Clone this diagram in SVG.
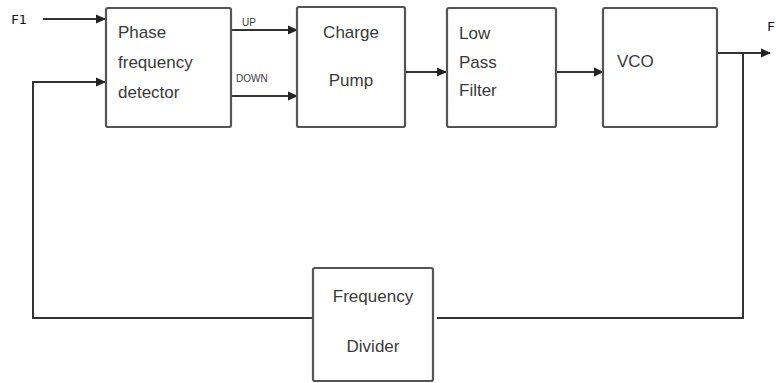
<svg xmlns="http://www.w3.org/2000/svg" width="776" height="383" viewBox="0 0 776 383">
<style>
.box{fill:#fff;stroke:#555;stroke-width:2.2}
.ln{fill:none;stroke:#333;stroke-width:2}
.t{font-family:"Liberation Sans",Arial,sans-serif;font-size:17px;fill:#3a3a3a}
.s{font-family:"Liberation Sans",Arial,sans-serif;font-size:10px;fill:#3a3a3a}
.f{font-family:"DejaVu Sans Mono","Liberation Mono",monospace;font-size:13px;fill:#111}
</style>
<defs>
<marker id="ah" markerWidth="10" markerHeight="10" refX="9" refY="5" orient="auto" markerUnits="userSpaceOnUse">
<path d="M0,0.5 L10,5 L0,9.5 Z" fill="#222"/>
</marker>
</defs>
<rect width="776" height="383" fill="#fff"/>
<g id="connectors">
<path class="ln" d="M43,19 H105" marker-end="url(#ah)"/>
<path class="ln" d="M231,30 H297" marker-end="url(#ah)"/>
<path class="ln" d="M231,96 H297" marker-end="url(#ah)"/>
<path class="ln" d="M405,72 H446" marker-end="url(#ah)"/>
<path class="ln" d="M556,72 H603" marker-end="url(#ah)"/>
<path class="ln" d="M717,53 H770" marker-end="url(#ah)"/>
<path class="ln" d="M743,53 V318 H437"/>
<path class="ln" d="M313,318 H33 V82 H105" marker-end="url(#ah)"/>
<text class="s" x="242" y="26">UP</text>
<text class="s" x="236" y="82">DOWN</text>
<text class="f" x="11" y="24">F1</text>
<text class="f" x="767" y="31">F</text>
</g>
<g id="pfd">
<rect class="box" x="106" y="8" width="125" height="119" rx="2"/>
<text class="t" x="118" y="38">Phase</text>
<text class="t" x="118" y="68">frequency</text>
<text class="t" x="118" y="98">detector</text>
</g>
<g id="cp">
<rect class="box" x="297" y="7" width="108" height="120" rx="2"/>
<text class="t" x="351" y="38" text-anchor="middle">Charge</text>
<text class="t" x="351" y="86" text-anchor="middle">Pump</text>
</g>
<g id="lpf">
<rect class="box" x="447" y="8" width="109" height="119" rx="2"/>
<text class="t" x="459" y="39">Low</text>
<text class="t" x="459" y="68">Pass</text>
<text class="t" x="459" y="96">Filter</text>
</g>
<g id="vco">
<rect class="box" x="603" y="8" width="114" height="119" rx="2"/>
<text class="t" x="617" y="67">VCO</text>
</g>
<g id="divider">
<rect class="box" x="313" y="268" width="120" height="113" rx="2"/>
<text class="t" x="373" y="302" text-anchor="middle" font-size="14">Frequency</text>
<text class="t" x="373" y="352" text-anchor="middle" font-size="14">Divider</text>
</g>
</svg>
